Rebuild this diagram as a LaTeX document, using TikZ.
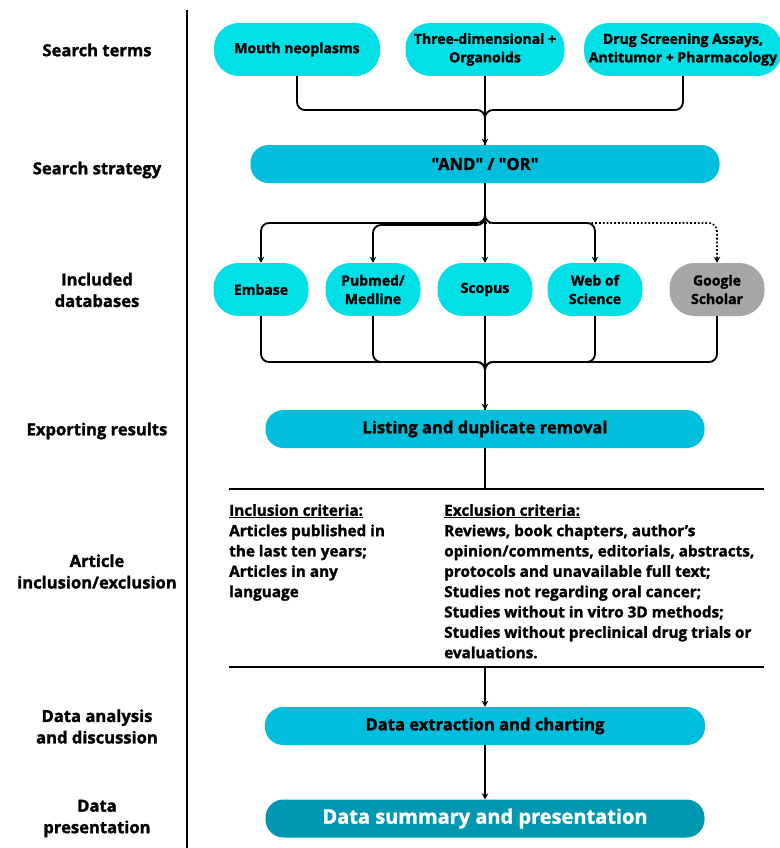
\documentclass[tikz,border=0pt]{standalone}
\usepackage{fontspec}
\setmainfont{Open Sans}[Ligatures=TeXOff, BoldFeatures={FakeBold=1.5}]
\usetikzlibrary{arrows.meta,calc}
\definecolor{cyanA}{RGB}{0,224,230}
\definecolor{cyanB}{RGB}{0,190,220}
\definecolor{tealC}{RGB}{0,152,176}
\definecolor{grayG}{RGB}{166,166,166}
\begin{document}
\begin{tikzpicture}[x=1pt,y=-1pt,
  box/.style={rectangle, align=center, inner sep=0pt, font=\fontsize{14}{18.5}\selectfont\bfseries},
  tallbox/.style={box, rounded corners=25pt, fill=cyanA, minimum height=53pt},
  widebox/.style={box, rounded corners=18pt, fill=cyanB, minimum height=38pt, font=\fontsize{16.6}{18}\selectfont\bfseries},
  lbl/.style={align=center, inner sep=0pt, font=\fontsize{16.6}{21.5}\selectfont\bfseries},
  crit/.style={align=left, inner sep=0pt, anchor=north west, font=\fontsize{15.3}{20.33}\selectfont\bfseries},
  conn/.style={line width=1.8pt, black},
  arr/.style={conn, -{Stealth[length=6pt,width=6.5pt]}},
  rcorner/.style={rounded corners=8pt}
]
\useasboundingbox (0,0) rectangle (779,848);
\fill[white] (0,0) rectangle (779,848);

% divider
\coordinate (dTop) at (187,10);
\coordinate (dBot) at (187,848);
\draw[conn] (dTop) -- (dBot);

% left labels
\node[lbl] (l1) at (97,50) {Search terms};
\node[lbl] (l2) at (97,170) {Search strategy};
\node[lbl] (l3) at (97,290) {Included\\databases};
\node[lbl] (l4) at (97,431) {Exporting results};
\node[lbl] (l5) at (97,571.5) {Article\\inclusion/exclusion};
\node[lbl] (l6) at (97,726.5) {Data analysis\\and discussion};
\node[lbl] (l7) at (97,818.5) {Data\\presentation};

% search terms
\node[tallbox, minimum width=166pt] (mouth) at (297,49.5) {Mouth neoplasms};
\node[tallbox, minimum width=159pt] (three) at (485,49.5) {Three-dimensional +\\Organoids};
\node[tallbox, minimum width=198pt] (drug) at (683,49.5) {Drug Screening Assays,\\Antitumor + Pharmacology};

% strategy
\node[widebox, minimum width=469pt] (andor) at (485,164) {"AND" / "OR"};

% databases
\node[tallbox, minimum width=95pt] (embase) at (261,289.5) {Embase};
\node[tallbox, minimum width=95pt] (pubmed) at (373,289.5) {Pubmed/\\Medline};
\node[tallbox, minimum width=95pt] (scopus) at (485,289.5) {Scopus};
\node[tallbox, minimum width=95pt] (web) at (595,289.5) {Web of\\Science};
\node[tallbox, minimum width=95pt, fill=grayG] (google) at (717,289.5) {Google\\Scholar};

% exporting
\node[widebox, minimum width=439pt] (listing) at (485,429) {Listing and duplicate removal};

% criteria
\coordinate (h1L) at (229,489);
\coordinate (h1R) at (764,489);
\coordinate (h2L) at (229,667);
\coordinate (h2R) at (764,667);
\coordinate (h1M) at (485,489);
\coordinate (h2M) at (485,667);
\node[crit] (incl) at (229,504) {\underline{Inclusion criteria:}\\Articles published in\\the last ten years;\\Articles in any\\language};
\node[crit] (excl) at (444,504) {\underline{Exclusion criteria:}\\Reviews, book chapters, author’s\\opinion/comments, editorials, abstracts,\\protocols and unavailable full text;\\Studies not regarding oral cancer;\\Studies without in vitro 3D methods;\\Studies without preclinical drug trials or\\evaluations.};

% data
\node[widebox, minimum width=440pt] (extr) at (485,726) {Data extraction and charting};
\node[widebox, minimum width=439pt, fill=tealC, text=white, font=\fontsize{20}{22}\selectfont\bfseries] (summ) at (485,818.5) {Data summary and presentation};

% connectors: search terms -> strategy
\coordinate (j1) at (485,110);
\draw[conn, rcorner] (mouth.south) |- (j1) -- (andor.north);
\draw[conn, rcorner] (drug.south) |- (j1) -- (andor.north);
\draw[arr] (three.south) -- (andor.north);

% strategy -> databases
\coordinate (j2) at (485,223);
\coordinate (j2b) at (485,225);
\draw[arr, rcorner] (andor.south) -- (j2) -| (embase.north);
\draw[arr, rcorner] (andor.south) -- (j2b) -| (pubmed.north);
\draw[arr, rcorner] (andor.south) -- (j2) -| (web.north);
\draw[conn, dotted, line width=1.6pt, -{Stealth[length=6pt,width=6.5pt]}, rcorner] (j2) -| (google.north);
\draw[arr] (andor.south) -- (scopus.north);

% databases -> listing
\coordinate (j3) at (485,362);
\draw[conn, rcorner] (embase.south) |- (j3) -- (listing.north);
\draw[conn, rcorner] (pubmed.south) |- (j3) -- (listing.north);
\draw[conn, rcorner] (web.south) |- (j3) -- (listing.north);
\draw[conn, rcorner] (google.south) |- (j3) -- (listing.north);
\draw[arr] (scopus.south) -- (listing.north);

% listing -> criteria
\draw[conn] (listing.south) -- (h1M);
\draw[conn] (h1L) -- (h1R);
\draw[conn] (h2L) -- (h2R);
\draw[arr] (h2M) -- (extr.north);
\draw[arr] (extr.south) -- (summ.north);
\end{tikzpicture}
\end{document}
